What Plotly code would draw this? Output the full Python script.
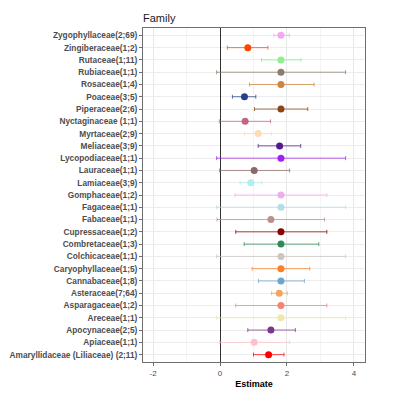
import plotly.graph_objects as go

families = [
    "Amaryllidaceae (Liliaceae) (2;11)", "Apiaceae(1;1)", "Apocynaceae(2;5)", "Areceae(1;1)",
    "Asparagaceae(1;2)", "Asteraceae(7;64)", "Cannabaceae(1;8)", "Caryophyllaceae(1;5)",
    "Colchicaceae(1;1)", "Combretaceae(1;3)", "Cupressaceae(1;2)", "Fabaceae(1;1)",
    "Fagaceae(1;1)", "Gomphaceae(1;2)", "Lamiaceae(3;9)", "Lauraceae(1;1)",
    "Lycopodiaceae(1;1)", "Meliaceae(3;9)", "Myrtaceae(2;9)", "Nyctaginaceae (1;1)",
    "Piperaceae(2;6)", "Poaceae(3;5)", "Rosaceae(1;4)", "Rubiaceae(1;1)",
    "Rutaceae(1;11)", "Zingiberaceae(1;2)", "Zygophyllaceae(2;69)",
]
estimate = [1.45, 1.02, 1.52, 1.82, 1.82, 1.77, 1.82, 1.82, 1.82, 1.82, 1.82, 1.52, 1.82, 1.82,
            0.92, 1.02, 1.82, 1.78, 1.14, 0.75, 1.82, 0.73, 1.82, 1.82, 1.82, 0.83, 1.82]
lower = [1.00, -0.01, 0.83, -0.10, 0.47, 1.54, 1.15, 0.96, -0.10, 0.72, 0.47, -0.09, -0.10, 0.45,
         0.60, -0.01, -0.10, 1.14, 0.73, -0.02, 1.03, 0.37, 0.88, -0.10, 1.24, 0.22, 1.61]
upper = [1.91, 2.08, 2.25, 3.75, 3.19, 2.01, 2.52, 2.68, 3.75, 2.95, 3.19, 3.12, 3.75, 3.19,
         1.25, 2.08, 3.75, 2.41, 1.54, 1.51, 2.62, 1.07, 2.81, 3.75, 2.42, 1.43, 2.07]
colors = ["#FF0000", "#FFC0CB", "#7A378B", "#EEE8AA", "#FA8072", "#F4A460", "#6CA6CD", "#FF7F24",
          "#CDC5BF", "#2E8B57", "#8B0000", "#BC8F8F", "#B0E0E6", "#EEAEEE", "#AFEEEE", "#8B6969",
          "#A020F0", "#551A8B", "#FFDAB9", "#C0668A", "#8B4513", "#27408B", "#CD853F", "#8B7D6B",
          "#90EE90", "#FF4500", "#F2A7F2"]
x_ticks = [-2, 0, 2, 4]


def rgba(h, a):
    h = h.lstrip("#")
    r, g, b = int(h[0:2], 16), int(h[2:4], 16), int(h[4:6], 16)
    return f"rgba({r},{g},{b},{a})"


fig = go.Figure()
for fam, est, lo, hi, col in zip(families, estimate, lower, upper, colors):
    fig.add_trace(go.Scatter(
        x=[est], y=[fam], mode="markers",
        marker=dict(color=col, size=7, line=dict(width=0)),
        error_x=dict(type="data", symmetric=False, array=[hi - est], arrayminus=[est - lo],
                     color=rgba(col, 0.75), thickness=1, width=2),
        showlegend=False, hoverinfo="skip",
    ))

W, H = 391, 396
fig.update_layout(
    width=W, height=H,
    margin=dict(l=135, r=34, t=20, b=42, autoexpand=False),
    paper_bgcolor="white", plot_bgcolor="white",
    font=dict(family="Liberation Sans, Arial, sans-serif", color="#4D4D4D"),
    title=dict(text="Family", x=135 / W, xanchor="left", y=1 - 10 / H, yanchor="middle",
               font=dict(size=11, color="#1A1A1A")),
)
fig.update_xaxes(
    automargin=False,
    range=[-2.3, 4.33], tickvals=x_ticks, ticktext=[str(v) for v in x_ticks],
    showgrid=True, gridcolor="#E8E8E8", gridwidth=1,
    minor=dict(dtick=1, tick0=0, showgrid=True, gridcolor="#F4F4F4", gridwidth=1),
    zeroline=True, zerolinecolor="#333333", zerolinewidth=1,
    showline=True, linecolor="#6E6E6E", linewidth=1, mirror=True,
    ticks="outside", ticklen=3, tickcolor="#6E6E6E",
    tickfont=dict(size=8, color="#4D4D4D"),
    title=dict(text="<b>Estimate</b>", font=dict(size=9, color="#000000"), standoff=4),
)
fig.update_yaxes(
    automargin=False,
    type="category", categoryorder="array", categoryarray=families,
    range=[-0.6, len(families) - 0.4],
    showgrid=True, gridcolor="#EDEDED", gridwidth=1,
    showline=True, linecolor="#6E6E6E", linewidth=1, mirror=True,
    ticks="outside", ticklen=3, tickcolor="#6E6E6E",
    tickfont=dict(size=8.3, color="#4D4D4D", weight="bold"),
)

fig.write_html("out.html")
